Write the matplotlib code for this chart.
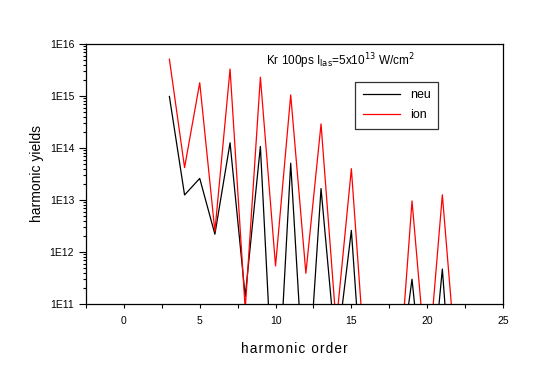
import matplotlib
matplotlib.use("Agg")
import matplotlib.pyplot as plt
import numpy as np
from matplotlib.ticker import FixedLocator, LogLocator, NullFormatter, MultipleLocator

plt.rcParams['font.family'] = ['Liberation Sans', 'DejaVu Sans']

orders = [3, 4, 5, 6, 7, 8, 9, 10, 11, 12, 13, 14, 15, 16, 17, 18, 19, 20, 21, 22]
neu = [9.8e14, 1.25e13, 2.6e13, 2.2e12, 1.26e14, 1.4e11, 1.07e14, 2e8, 5.1e13, 6e8,
       1.66e13, 1e10, 2.6e12, 1.7e8, 1e8, 2e9, 3.0e11, 4e8, 4.7e11, 5e7]
ion = [5.1e15, 4.2e13, 1.8e15, 2.5e12, 3.3e15, 8e10, 2.3e15, 5.4e11, 1.05e15, 3.9e11,
       2.9e14, 4e10, 4.0e13, 3e9, 1e9, 1e9, 9.6e12, 4e9, 1.26e13, 3.5e9]

ytick_vals = [1e11, 1e12, 1e13, 1e14, 1e15, 1e16]
ytick_labels = ["1E11", "1E12", "1E13", "1E14", "1E15", "1E16"]
xtick_vals = [0, 5, 10, 15, 20, 25]

fig = plt.figure(figsize=(5.37, 3.78), dpi=100)
ax = fig.add_axes([86/537, 1-304/378, (503-86)/537, (304-44)/378])

ax.plot(orders, neu, color='black', lw=0.9, label='neu')
ax.plot(orders, ion, color='red', lw=0.9, label='ion')

ax.set_yscale('log')
ax.set_ylim(1e11, 1e16)
ax.set_xlim(-2.5, 25)

ax.yaxis.set_major_locator(FixedLocator(ytick_vals))
ax.set_yticklabels(ytick_labels)
ax.yaxis.set_minor_locator(LogLocator(base=10, subs=np.arange(2, 10)))
ax.yaxis.set_minor_formatter(NullFormatter())
ax.set_xticks(xtick_vals)
ax.set_xticklabels([str(v) for v in xtick_vals])
ax.xaxis.set_minor_locator(MultipleLocator(2.5))

ax.tick_params(axis='both', which='both', direction='out', labelsize=7.5, width=0.8)
ax.tick_params(axis='y', which='major', length=5)
ax.tick_params(axis='y', which='minor', length=2.5)
ax.tick_params(axis='x', which='major', length=3, pad=6)
ax.tick_params(axis='x', which='minor', length=3)
for s in ax.spines.values():
    s.set_linewidth(0.9)

hs = '\u200a'
ax.set_xlabel(hs.join('harmonic order'), fontsize=9.8, labelpad=11)
ax.set_ylabel('harmonic yields', fontsize=10, labelpad=4)

ax.text(0.61, 0.935, r'Kr 100ps I$_{\mathrm{las}}$=5x10$^{13}$ W/cm$^{2}$',
        transform=ax.transAxes, ha='center', va='center', fontsize=8.5)

leg = ax.legend(loc='upper left', bbox_to_anchor=((355-86)/417, 1-(82-44)/260),
                fontsize=9, frameon=True, fancybox=False, edgecolor='black',
                handlelength=3.0, borderpad=0.6, labelspacing=0.6, borderaxespad=0)
leg.get_frame().set_linewidth(0.9)

fig.savefig('out.png', dpi=100)
